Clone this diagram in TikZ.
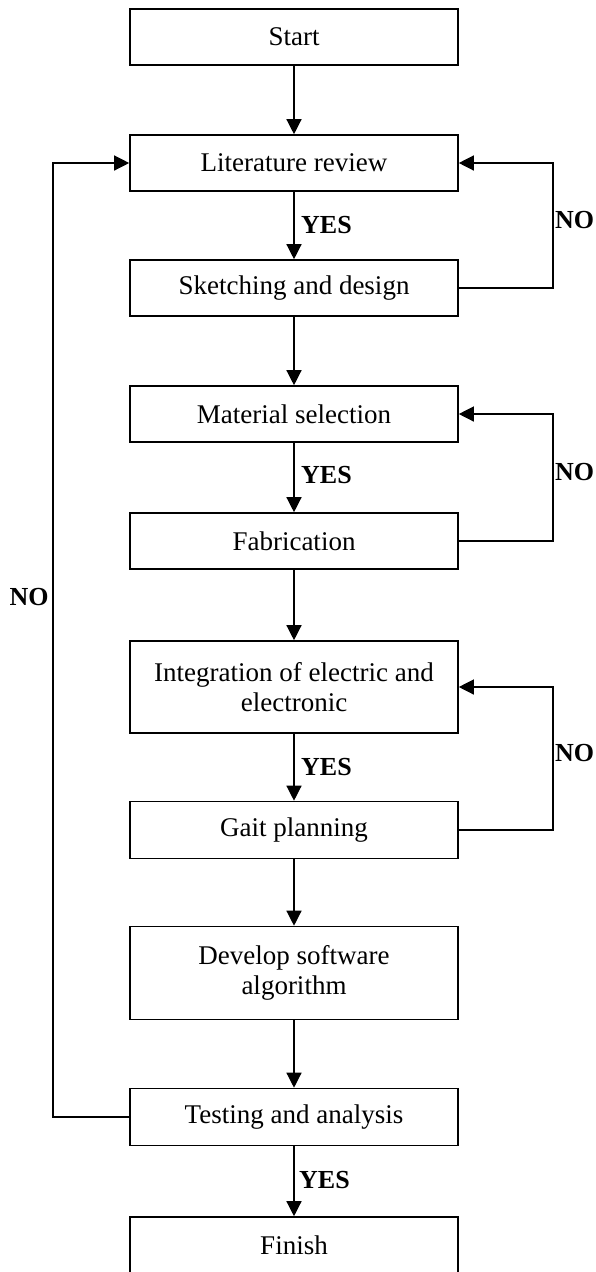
\documentclass[tikz,border=0pt]{standalone}
\usepackage{fontspec}
\setmainfont{Liberation Serif}
\usetikzlibrary{arrows.meta}
\begin{document}
\begin{tikzpicture}[x=1pt,y=-1pt,
  stepbox/.style={draw,line width=1.6pt,minimum width=328pt,inner sep=0pt,align=center,
    font=\fontsize{27}{30}\selectfont},
  conn/.style={line width=1.3pt},
  arr/.style={conn,-{Triangle[length=15pt,width=15pt]}},
  lbl/.style={font=\fontsize{26}{28}\selectfont\bfseries,inner sep=0pt}]
\useasboundingbox (0,0) rectangle (595,1272);
\node[stepbox,minimum height=56pt] (start) at (294,37) {Start};
\node[stepbox,minimum height=56pt] (lit) at (294,163) {Literature review};
\node[stepbox,minimum height=56pt] (sketch) at (294,288) {Sketching and design};
\node[stepbox,minimum height=56pt] (mat) at (294,414) {Material selection};
\node[stepbox,minimum height=56pt] (fab) at (294,541) {Fabrication};
\node[stepbox,minimum height=92pt] (integ) at (294,687) {Integration of electric and\\electronic};
\node[stepbox,minimum height=57pt] (gait) at (294,830) {Gait planning};
\node[stepbox,minimum height=93pt] (dev) at (294,973) {Develop software\\algorithm};
\node[stepbox,minimum height=57pt] (test) at (294,1117) {Testing and analysis};
\node[stepbox,minimum height=56pt] (finish) at (294,1245) {Finish};
\coordinate (r1) at (553,0);
\coordinate (l1) at (53,0);
\draw[arr] (start) -- (lit);
\draw[arr] (lit) -- (sketch);
\draw[arr] (sketch) -- (mat);
\draw[arr] (mat) -- (fab);
\draw[arr] (fab) -- (integ);
\draw[arr] (integ) -- (gait);
\draw[arr] (gait) -- (dev);
\draw[arr] (dev) -- (test);
\draw[arr] (test) -- (finish);
\draw[arr] (sketch.east) -- (sketch.east -| r1) -- (lit.east -| r1) -- (lit.east);
\draw[arr] (fab.east) -- (fab.east -| r1) -- (mat.east -| r1) -- (mat.east);
\draw[arr] (gait.east) -- (gait.east -| r1) -- (integ.east -| r1) -- (integ.east);
\draw[arr] (test.west) -- (test.west -| l1) -- (lit.west -| l1) -- (lit.west);
\node[lbl,anchor=west] (y1) at (301,225) {YES};
\node[lbl,anchor=west] (y2) at (301,475) {YES};
\node[lbl,anchor=west] (y3) at (301,767) {YES};
\node[lbl,anchor=west] (y4) at (299,1180) {YES};
\node[lbl,anchor=west] (n1) at (555,220) {NO};
\node[lbl,anchor=west] (n2) at (555,472) {NO};
\node[lbl,anchor=west] (n3) at (555,753) {NO};
\node[lbl] (n4) at (29,597) {NO};
\end{tikzpicture}
\end{document}
